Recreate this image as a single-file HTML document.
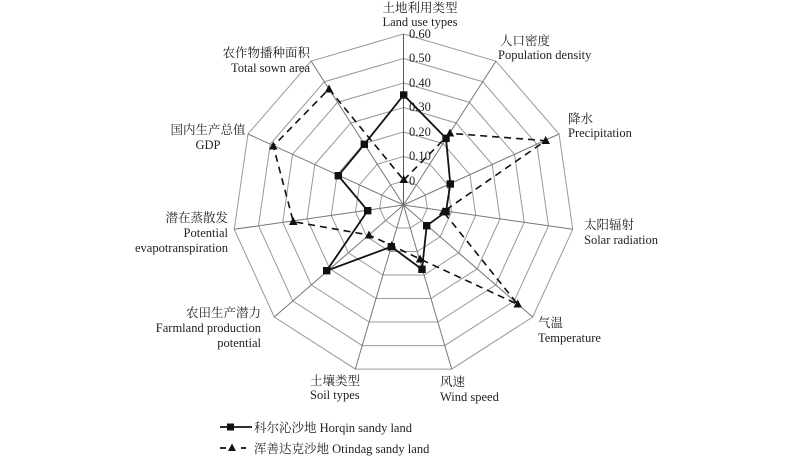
<!DOCTYPE html>
<html><head><meta charset="utf-8"><style>
html,body{margin:0;padding:0;background:#fff;}
svg{display:block;}
text{font-family:"Liberation Serif","Noto Serif CJK SC","Noto Sans CJK SC",serif;font-size:12.5px;fill:#222;}
</style></head><body>
<svg width="800" height="456" viewBox="0 0 800 456" xmlns="http://www.w3.org/2000/svg">
<defs>
<polygon id="p" points="0,-1 .5406,-.8413 .9096,-.4154 .9898,.1423 .7557,.6549 .2817,.9595 -.2817,.9595 -.7557,.6549 -.9898,.1423 -.9096,-.4154 -.5406,-.8413" fill="none" stroke="#999" stroke-width="1" vector-effect="non-scaling-stroke"/>
</defs>
<g transform="translate(403.5,205)">
<use href="#p" transform="scale(24)"/>
<use href="#p" transform="scale(48.5)"/>
<use href="#p" transform="scale(73)"/>
<use href="#p" transform="scale(97.5)"/>
<use href="#p" transform="scale(122)"/>
<use href="#p" transform="scale(146.5)"/>
<use href="#p" transform="scale(171)"/>
<g stroke="#777" stroke-width="1">
<line x1="0" y1="0" x2="0" y2="-171" stroke="#555"/>
<line x1="0" y1="0" x2="92.4" y2="-143.9"/>
<line x1="0" y1="0" x2="155.5" y2="-71"/>
<line x1="0" y1="0" x2="169.3" y2="24.3"/>
<line x1="0" y1="0" x2="129.2" y2="112"/>
<line x1="0" y1="0" x2="48.2" y2="164.1"/>
<line x1="0" y1="0" x2="-48.2" y2="164.1"/>
<line x1="0" y1="0" x2="-129.2" y2="112"/>
<line x1="0" y1="0" x2="-169.3" y2="24.3"/>
<line x1="0" y1="0" x2="-155.5" y2="-71"/>
<line x1="0" y1="0" x2="-92.4" y2="-143.9"/>
</g>
</g>
<g style="font-size:13px">
<text x="409" y="38">0.60</text>
<text x="409" y="62">0.50</text>
<text x="409" y="87">0.40</text>
<text x="409" y="111">0.30</text>
<text x="409" y="136">0.20</text>
<text x="409" y="160">0.10</text>
<text x="409" y="185">0</text>
</g>
<!-- Otindag dashed -->
<polygon points="403.7,180 450,133.3 545.7,140.7 443.3,211.7 517.7,304.3 420,259 391.7,245.5 369,235 293.3,221.7 273.3,146 329,89" fill="none" stroke="#111" stroke-width="1.6" stroke-dasharray="7,5"/>
<g fill="#111">
<polygon points="403.7,175 399.5,183 408,183"/>
<polygon points="450,128.5 445.8,136.5 454.2,136.5"/>
<polygon points="545.7,136 541.5,144 550,144"/>
<polygon points="443.3,207 439,215 447.5,215"/>
<polygon points="517.7,299.5 513.5,307.5 522,307.5"/>
<polygon points="420,254.5 415.8,262.5 424.2,262.5"/>
<polygon points="391.7,241 387.5,249 396,249"/>
<polygon points="369,230.5 364.8,238.5 373.2,238.5"/>
<polygon points="293.3,217 289,225 297.5,225"/>
<polygon points="273.3,141.5 269,149.5 277.5,149.5"/>
<polygon points="329,84.5 324.8,92.5 333.2,92.5"/>
</g>
<!-- Horqin solid -->
<polygon points="403.7,95 446,138.3 450.3,184 446,211.7 426.7,225.7 422,269.3 391.3,246.7 326.7,270.7 367.7,210.7 338.3,175.7 364.3,144.3" fill="none" stroke="#111" stroke-width="1.8"/>
<g fill="#111">
<rect x="400" y="91.3" width="7.4" height="7.4"/>
<rect x="442.3" y="134.6" width="7.4" height="7.4"/>
<rect x="446.6" y="180.3" width="7.4" height="7.4"/>
<rect x="442.3" y="208" width="7.4" height="7.4"/>
<rect x="423" y="222" width="7.4" height="7.4"/>
<rect x="418.3" y="265.6" width="7.4" height="7.4"/>
<rect x="387.6" y="243" width="7.4" height="7.4"/>
<rect x="323" y="267" width="7.4" height="7.4"/>
<rect x="364" y="207" width="7.4" height="7.4"/>
<rect x="334.6" y="172" width="7.4" height="7.4"/>
<rect x="360.6" y="140.6" width="7.4" height="7.4"/>
</g>
<!-- labels -->
<text x="420" y="12" text-anchor="middle">土地利用类型</text>
<text x="420" y="26" text-anchor="middle">Land use types</text>
<text x="500" y="45">人口密度</text>
<text x="498" y="59">Population density</text>
<text x="568" y="123">降水</text>
<text x="568" y="137">Precipitation</text>
<text x="584" y="229">太阳辐射</text>
<text x="584" y="244">Solar radiation</text>
<text x="538" y="327">气温</text>
<text x="538" y="342">Temperature</text>
<text x="440" y="386">风速</text>
<text x="440" y="401">Wind speed</text>
<text x="310" y="385">土壤类型</text>
<text x="310" y="399">Soil types</text>
<text x="261" y="317" text-anchor="end">农田生产潜力</text>
<text x="261" y="332" text-anchor="end">Farmland production</text>
<text x="261" y="347" text-anchor="end">potential</text>
<text x="228" y="222" text-anchor="end">潜在蒸散发</text>
<text x="228" y="237" text-anchor="end">Potential</text>
<text x="228" y="252" text-anchor="end">evapotranspiration</text>
<text x="208" y="134" text-anchor="middle">国内生产总值</text>
<text x="208" y="149" text-anchor="middle">GDP</text>
<text x="310" y="57" text-anchor="end">农作物播种面积</text>
<text x="310" y="72" text-anchor="end">Total sown area</text>
<!-- legend -->
<line x1="220" y1="427" x2="252" y2="427" stroke="#111" stroke-width="1.8"/>
<rect x="227" y="423.5" width="7" height="7" fill="#111"/>
<text x="254" y="432">科尔沁沙地 Horqin sandy land</text>
<line x1="220" y1="448" x2="226" y2="448" stroke="#111" stroke-width="1.8"/>
<polygon points="232,443.5 228,451 236,451" fill="#111"/>
<line x1="241" y1="448" x2="246" y2="448" stroke="#111" stroke-width="1.8"/>
<text x="254" y="453">浑善达克沙地 Otindag sandy land</text>
</svg>
</body></html>
